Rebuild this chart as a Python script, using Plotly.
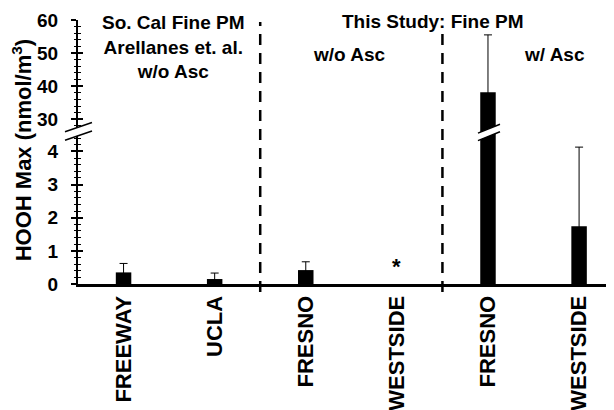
import plotly.graph_objects as go

# ---------------- data ----------------
categories = ["FREEWAY", "UCLA", "FRESNO", "WESTSIDE", "FRESNO", "WESTSIDE"]
hooh_max = [0.35, 0.15, 0.42, None, 38.2, 1.74]        # nmol/m3
hooh_err = [0.27, 0.18, 0.25, None, 17.3, 2.39]        # upper error
group_sizes = [2, 2, 2]
group_labels = ["So. Cal Fine PM<br>Arellanes et. al.<br>w/o Asc", "w/o Asc", "w/ Asc"]
study_label = "This Study: Fine PM"
y_title = "HOOH Max (nmol/m<sup>3</sup>)"
lower_ticks = [0, 1, 2, 3, 4]
upper_ticks = [30, 40, 50, 60]

# ---------------- styling / layout constants ----------------
FONT = "Liberation Sans, Arial, sans-serif"
W, H = 614, 410
# the page body adds an 8px offset, so margins are reduced by 8px
M_L, M_R, M_T, M_B = 70, 0, 12, 134
SPLIT = 0.5725              # paper fraction where the axis is broken
LOWER_MAX = 4.56
UPPER_RANGE = [25.9, 60]
X_RANGE = [-0.5, 5.471]


def bold(size):
    return dict(family=FONT, size=size, color="black", weight="bold")


xs = list(range(len(categories)))
err = dict(type="data", array=hooh_err, visible=True, color="black",
           thickness=1, width=4)

fig = go.Figure()
for ax in ["y", "y2"]:
    fig.add_trace(go.Bar(
        x=xs, y=hooh_max, yaxis=ax, width=0.17,
        marker=dict(color="black", line=dict(width=0)),
        error_y=err, showlegend=False, hoverinfo="skip"))
# invisible companions so the overlay axes (inner tick halves) get drawn
for ax in ["y3", "y4"]:
    fig.add_trace(go.Scatter(
        x=xs, y=hooh_max, yaxis=ax, mode="markers",
        marker=dict(opacity=0), showlegend=False, hoverinfo="skip"))

tick_common = dict(showgrid=False, zeroline=False, tickcolor="black",
                   ticklen=5, tickwidth=1.5, anchor="x")


def minor(dt, side):
    return dict(ticks=side, dtick=dt, tick0=0, ticklen=2.5, tickwidth=1,
                tickcolor="black")


fig.update_layout(
    width=W, height=H,
    margin=dict(l=M_L, r=M_R, t=M_T, b=M_B),
    paper_bgcolor="white", plot_bgcolor="white",
    barmode="overlay",
    xaxis=dict(range=X_RANGE, tickmode="array", tickvals=xs, ticktext=categories,
               tickangle=-90, tickfont=bold(22), ticks="", showline=True,
               linewidth=3, linecolor="black", showgrid=False, zeroline=False,
               ticklabelstandoff=0, anchor="y", automargin=False),
    yaxis=dict(domain=[0, SPLIT], range=[0, LOWER_MAX], tickmode="array",
               tickvals=lower_ticks, ticks="outside", showline=True,
               linewidth=2, linecolor="black", tickfont=bold(19),
               ticklabelstandoff=9, minor=minor(0.2, "outside"),
               automargin=False, **tick_common),
    yaxis2=dict(domain=[SPLIT, 1], range=UPPER_RANGE, tickmode="array",
                tickvals=upper_ticks, ticks="outside", showline=True,
                linewidth=2, linecolor="black", tickfont=bold(19),
                ticklabelstandoff=9, minor=minor(2, "outside"),
                automargin=False, **tick_common),
    yaxis3=dict(overlaying="y", range=[0, LOWER_MAX], tickmode="array",
                tickvals=lower_ticks, ticks="inside", showticklabels=False,
                showline=False, minor=minor(0.2, "inside"), side="left",
                **tick_common),
    yaxis4=dict(overlaying="y2", range=UPPER_RANGE, tickmode="array",
                tickvals=upper_ticks, ticks="inside", showticklabels=False,
                showline=False, minor=minor(2, "inside"), side="left",
                **tick_common),
)

# ---------------- group separators ----------------
bounds = []
acc = 0
for n in group_sizes[:-1]:
    acc += n
    bounds.append(acc - 0.5)
tops = [0.992, 0.951]
for b, top in zip(bounds, tops):
    fig.add_shape(type="line", xref="x", yref="paper", x0=b, x1=b,
                  y0=-0.03, y1=top,
                  line=dict(color="black", width=2.5, dash="11px,8px"))

# ---------------- axis break marks ----------------
def break_mark(xref, xanchor, xl, xr, cy_l, cy_r, half):
    fill = (f"M {xl},{cy_l + half} L {xr},{cy_r + half} "
            f"L {xr},{cy_r - half} L {xl},{cy_l - half} Z")
    common = dict(xref=xref, yref="paper", xsizemode="pixel", ysizemode="pixel",
                  xanchor=xanchor, yanchor=SPLIT, layer="above")
    fig.add_shape(type="path", path=fill, fillcolor="white",
                  line=dict(width=0), **common)
    for s in (1, -1):
        fig.add_shape(type="path",
                      path=f"M {xl},{cy_l + s * half} L {xr},{cy_r + s * half}",
                      line=dict(color="black", width=1.5), **common)


break_mark("paper", 0, -13, 14, -3.1, 6.06, 4.25)
big_idx = max(range(len(hooh_max)), key=lambda i: hooh_max[i] or 0)
break_mark("x", big_idx, -10, 12, -4.0, 4.8, 3.75)

# ---------------- text ----------------
label_x = [0.55, 2.48, 4.73]
for lx, txt in zip(label_x, group_labels):
    fig.add_annotation(x=lx, xref="x", y=0.896 if "<br>" in txt else 0.868,
                       yref="paper", text=txt, showarrow=False,
                       font=bold(19), xanchor="center", yanchor="middle")
fig.add_annotation(x=3.4, xref="x", y=0.996, yref="paper", text=study_label,
                   showarrow=False, font=bold(19), xanchor="center",
                   yanchor="middle")
missing = [i for i, v in enumerate(hooh_max) if v is None]
for i in missing:
    fig.add_annotation(x=i, xref="x", y=0.52, yref="y", text="*",
                       showarrow=False, font=bold(22), yanchor="middle")
fig.add_annotation(x=-0.104, xref="paper", y=0.508, yref="paper", text=y_title,
                   textangle=-90, showarrow=False, font=bold(22),
                   xanchor="center", yanchor="middle")

fig.write_html("out.html")
